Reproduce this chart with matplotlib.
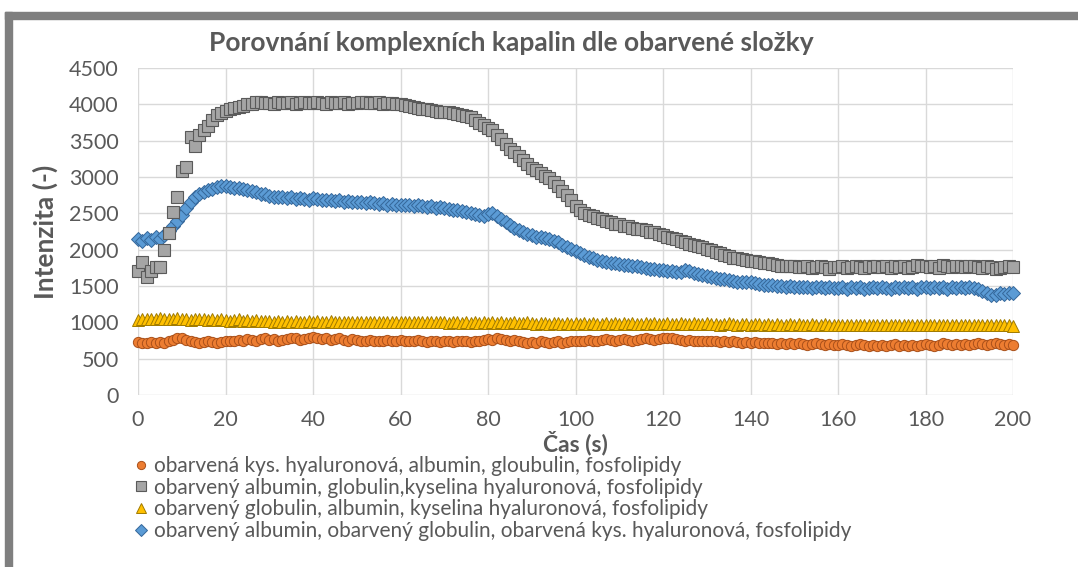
import matplotlib
matplotlib.use("Agg")
import matplotlib.pyplot as plt
from matplotlib.patches import Rectangle
from matplotlib.lines import Line2D

plt.rcParams["font.family"] = ["Lato", "DejaVu Sans"]

# time in seconds, one sample per second
time_s = list(range(0, 201))

orange_vals = [
    730, 720, 710, 730, 720, 730, 720, 740, 760, 780,
    790, 760, 740, 730, 720, 730, 740, 730, 720, 730,
    740, 750, 740, 760, 750, 770, 760, 750, 770, 780,
    760, 770, 750, 760, 770, 790, 780, 760, 770, 780,
    800, 790, 770, 780, 760, 770, 780, 760, 750, 770,
    760, 750, 740, 760, 750, 740, 750, 760, 740, 750,
    760, 750, 740, 750, 760, 740, 730, 750, 740, 730,
    740, 750, 730, 740, 750, 740, 730, 740, 750, 760,
    770, 760, 780, 770, 760, 750, 760, 740, 730, 720,
    730, 720, 740, 730, 720, 730, 740, 720, 730, 740,
    750, 740, 750, 760, 750, 740, 760, 770, 760, 750,
    760, 770, 760, 750, 760, 770, 780, 770, 760, 770,
    780, 790, 780, 770, 760, 750, 760, 750, 740, 750,
    740, 750, 740, 730, 740, 730, 740, 730, 720, 730,
    720, 730, 720, 710, 720, 710, 700, 710, 700, 710,
    700, 710, 700, 690, 700, 710, 700, 690, 700, 690,
    690, 700, 690, 680, 690, 700, 690, 680, 690, 680,
    690, 680, 690, 700, 680, 690, 680, 690, 680, 690,
    700, 690, 680, 690, 710, 700, 690, 700, 690, 700,
    690, 700, 710, 700, 690, 700, 710, 700, 690, 700,
    690,
]

gray_vals = [
    1700, 1830, 1630, 1700, 1760, 1760, 2000, 2230, 2520, 2730,
    3080, 3140, 3550, 3420, 3580, 3650, 3700, 3790, 3850, 3880,
    3910, 3930, 3950, 3960, 3980, 4000, 4010, 4030, 4030, 4020,
    4020, 4010, 4030, 4020, 4020, 4030, 4010, 4020, 4030, 4020,
    4020, 4030, 4020, 4010, 4030, 4020, 4020, 4030, 4010, 4020,
    4020, 4030, 4030, 4020, 4020, 4030, 4010, 4020, 4020, 4010,
    4000, 3990, 3980, 3960, 3950, 3940, 3930, 3920, 3910, 3900,
    3900, 3890, 3880, 3870, 3860, 3840, 3820, 3790, 3750, 3720,
    3680, 3640, 3580, 3520, 3450, 3380, 3340, 3290, 3230, 3180,
    3130, 3090, 3060, 3020, 2990, 2930, 2870, 2810, 2750, 2680,
    2600, 2550, 2510, 2480, 2460, 2440, 2420, 2400, 2380, 2360,
    2350, 2330, 2320, 2300, 2290, 2280, 2270, 2250, 2240, 2220,
    2200, 2180, 2160, 2140, 2120, 2100, 2080, 2070, 2050, 2030,
    2010, 1990, 1970, 1950, 1930, 1910, 1890, 1880, 1870, 1860,
    1850, 1840, 1830, 1820, 1810, 1800, 1790, 1780, 1780, 1770,
    1770, 1760, 1760, 1770, 1750, 1760, 1770, 1760, 1740, 1760,
    1760, 1770, 1750, 1760, 1780, 1760, 1750, 1770, 1760, 1780,
    1760, 1770, 1750, 1780, 1760, 1770, 1750, 1760, 1790, 1770,
    1780, 1760, 1770, 1750, 1790, 1770, 1760, 1780, 1770, 1760,
    1770, 1780, 1760, 1750, 1770, 1760, 1740, 1750, 1760, 1770,
    1760,
]

yellow_vals = [
    1030, 1040, 1050, 1040, 1050, 1060, 1050, 1040, 1050, 1060,
    1040, 1050, 1030, 1040, 1050, 1040, 1030, 1040, 1030, 1040,
    1030, 1020, 1030, 1040, 1020, 1030, 1020, 1030, 1020, 1020,
    1020, 1010, 1020, 1010, 1020, 1010, 1020, 1010, 1010, 1020,
    1010, 1020, 1010, 1010, 1020, 1010, 1000, 1010, 1010, 1000,
    1010, 1000, 1010, 1000, 1010, 1000, 1010, 1000, 1000, 1010,
    1000, 1010, 1000, 1000, 1010, 1000, 1000, 1010, 1000, 1000,
    1000, 990, 1000, 1000, 990, 1000, 990, 1000, 990, 1000,
    990, 1000, 990, 1000, 990, 990, 1000, 990, 990, 1000,
    990, 980, 990, 990, 980, 990, 990, 980, 990, 980,
    990, 980, 990, 980, 990, 980, 980, 990, 980, 990,
    980, 990, 980, 990, 980, 980, 990, 980, 990, 980,
    980, 990, 980, 980, 990, 980, 980, 990, 980, 980,
    990, 980, 980, 970, 980, 990, 980, 970, 980, 980,
    970, 980, 980, 970, 980, 970, 980, 970, 970, 980,
    970, 980, 970, 970, 980, 970, 970, 980, 970, 960,
    970, 970, 960, 970, 970, 960, 970, 960, 970, 960,
    970, 960, 970, 960, 960, 970, 960, 970, 960, 960,
    970, 960, 960, 970, 960, 960, 970, 960, 960, 970,
    960, 960, 970, 960, 960, 970, 960, 960, 970, 960,
    950,
]

blue_vals = [
    2150, 2120, 2160, 2130, 2170, 2150, 2200, 2260, 2330, 2400,
    2480, 2580, 2660, 2720, 2760, 2790, 2820, 2840, 2860, 2880,
    2870, 2860, 2850, 2850, 2830, 2820, 2810, 2790, 2770, 2760,
    2740, 2730, 2720, 2720, 2710, 2720, 2700, 2710, 2700, 2690,
    2710, 2700, 2690, 2680, 2690, 2670, 2680, 2660, 2670, 2650,
    2660, 2650, 2640, 2650, 2640, 2630, 2640, 2620, 2630, 2620,
    2620, 2610, 2620, 2600, 2610, 2600, 2590, 2600, 2580, 2590,
    2570, 2560, 2550, 2540, 2530, 2520, 2500, 2490, 2480, 2470,
    2490, 2500, 2460, 2420, 2380, 2340, 2300, 2270, 2240, 2220,
    2200, 2180, 2170, 2160, 2140, 2120, 2100, 2070, 2040, 2010,
    1980, 1950, 1920, 1900, 1880, 1860, 1840, 1830, 1820, 1810,
    1800, 1790, 1790, 1780, 1770, 1760, 1750, 1740, 1730, 1720,
    1720, 1710, 1700, 1690, 1690, 1720, 1700, 1680, 1660, 1650,
    1640, 1620, 1610, 1600, 1590, 1580, 1570, 1560, 1560, 1550,
    1550, 1540, 1530, 1520, 1520, 1510, 1500, 1500, 1490, 1500,
    1490, 1480, 1490, 1480, 1470, 1480, 1490, 1470, 1480, 1470,
    1470, 1480, 1460, 1480, 1470, 1480, 1460, 1470, 1490, 1470,
    1480, 1470, 1460, 1480, 1470, 1490, 1470, 1480, 1460, 1480,
    1480, 1470, 1490, 1470, 1480, 1460, 1480, 1470, 1490, 1470,
    1480, 1470, 1460, 1430, 1400, 1370, 1380, 1400, 1390, 1410,
    1400,
]

series_labels = [
    "obarvená kys. hyaluronová, albumin, gloubulin, fosfolipidy",
    "obarvený albumin, globulin,kyselina hyaluronová, fosfolipidy",
    "obarvený globulin, albumin, kyselina hyaluronová, fosfolipidy",
    "obarvený albumin, obarvený globulin, obarvená kys. hyaluronová, fosfolipidy",
]

x_ticks = [0, 20, 40, 60, 80, 100, 120, 140, 160, 180, 200]
y_ticks = [0, 500, 1000, 1500, 2000, 2500, 3000, 3500, 4000, 4500]

W, H = 1078, 567
fig = plt.figure(figsize=(W / 100, H / 100), dpi=100)
fig.patch.set_facecolor("white")

# outer grey frame (top bar and left bar)
frame_col = "#7f7f7f"
fig.patches.append(Rectangle((5 / W, 0), 7 / W, (H - 12) / H,
                             transform=fig.transFigure, color=frame_col, zorder=0))
fig.patches.append(Rectangle((5 / W, (H - 19) / H), (W - 5) / W, 7 / H,
                             transform=fig.transFigure, color=frame_col, zorder=0))

ax = fig.add_axes([138 / W, 1 - 395 / H, (1013 - 138) / W, (395 - 68) / H])
ax.set_xlim(0, 200)
ax.set_ylim(0, 4500)
ax.set_xticks(x_ticks)
ax.set_yticks(y_ticks)
ax.grid(True, color="#d9d9d9", linewidth=1.0)
ax.set_axisbelow(True)
for s in ax.spines.values():
    s.set_visible(False)
ax.tick_params(length=0, labelsize=15.5, labelcolor="#595959")
ax.tick_params(axis="y", pad=14)
ax.tick_params(axis="x", pad=11)

styles = [
    dict(marker="o", ms=7.4, mfc="#ED7D31", mec="#A9501A", mew=0.7),
    dict(marker="s", ms=8.6, mfc="#A5A5A5", mec="#5a5a5a", mew=0.8),
    dict(marker="^", ms=8.6, mfc="#FFC000", mec="#A07A00", mew=0.7),
    dict(marker="D", ms=7.2, mfc="#5B9BD5", mec="#35679A", mew=0.7),
]
series_vals = [orange_vals, gray_vals, yellow_vals, blue_vals]
zorders = [3, 6, 4, 5]

for vals, st, z in zip(series_vals, styles, zorders):
    ax.plot(time_s, vals, linestyle="none", clip_on=False, zorder=z, **st)

fig.text(511 / W, 1 - 43 / H, "Porovnání komplexních kapalin dle obarvené složky",
         fontsize=19, fontweight="bold", color="#595959", ha="center", va="center")
fig.text(575 / W, 1 - 443 / H, "Čas (s)", fontsize=16.5, fontweight="bold",
         color="#595959", ha="center", va="center")
fig.text(45 / W, 1 - 232 / H, "Intenzita (-)", fontsize=19, fontweight="bold",
         color="#595959", ha="center", va="center", rotation=90)

handles = []
for st in styles:
    h = dict(st)
    h["ms"] = st["ms"] * 0.8
    handles.append(Line2D([], [], linestyle="none", **h))
fig.legend(handles, series_labels, loc="upper left",
           bbox_to_anchor=(135 / W, 1 - 456 / H), frameon=False,
           fontsize=15, labelcolor="#595959", handlelength=0.6,
           handletextpad=0.3, labelspacing=0.08, borderpad=0, borderaxespad=0)

fig.savefig("out.png", dpi=100, facecolor="white")
